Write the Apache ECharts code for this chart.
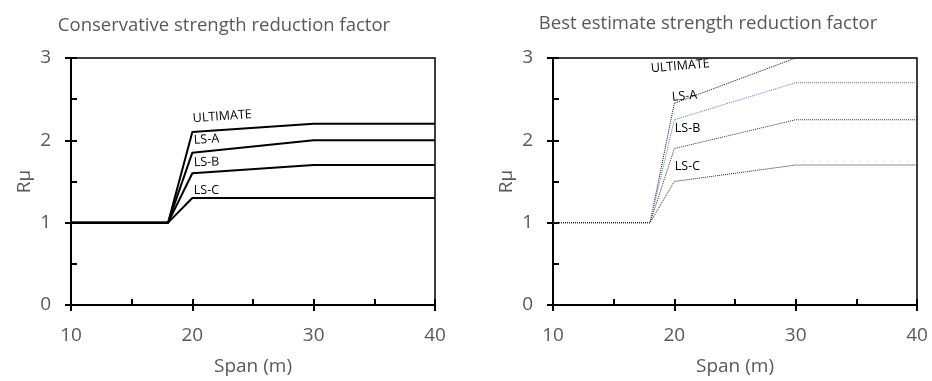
<!DOCTYPE html>
<html>
<head>
<meta charset="utf-8">
<script src="https://cdn.jsdelivr.net/npm/echarts@6/dist/echarts.min.js"></script>
<style>
  html, body { margin: 0; padding: 0; background: #fff; }
  #chart { width: 932px; height: 381px; }
</style>
</head>
<body>
<div id="chart"></div>
<script>
// span (m) where the curves break
const spanX = [10, 18, 20, 30, 40]

// conservative R mu
const consUlt = [1, 1, 2.1, 2.2, 2.2]
const consLSA = [1, 1, 1.85, 2.0, 2.0]
const consLSB = [1, 1, 1.6, 1.7, 1.7]
const consLSC = [1, 1, 1.3, 1.3, 1.3]

// best estimate R mu
const bestUlt = [1, 1, 2.45, 3.0, 3.0]
const bestLSA = [1, 1, 2.25, 2.7, 2.7]
const bestLSB = [1, 1, 1.9, 2.25, 2.25]
const bestLSC = [1, 1, 1.5, 1.7, 1.7]

const titles = ['Conservative strength reduction factor', 'Best estimate strength reduction factor']
const labelPoint = 2 // curve label sits at span 20

const gray = '#595959'
const font = 'Open Sans'

const grids = [
  {left: 71, top: 58, width: 364, height: 250},
  {left: 553, top: 58, width: 364, height: 250}
]

// labelled axis with outside ticks + an unlabelled one carrying the inner (minor) ticks
function xAxes(g) {
  return [
    {
      type: 'value', gridIndex: g, min: 10, max: 40, interval: 10,
      name: 'Span (m)', nameLocation: 'middle', nameGap: 52,
      nameTextStyle: {color: gray, fontSize: 19, fontFamily: font},
      axisLine: {show: true, lineStyle: {color: '#000', width: 2}},
      axisTick: {show: true, inside: false, length: 6, lineStyle: {color: '#000', width: 2}},
      axisLabel: {color: gray, fontSize: 19, fontFamily: font, margin: 21},
      splitLine: {show: false}
    },
    {
      type: 'value', gridIndex: g, min: 10, max: 40, interval: 5, position: 'bottom',
      axisLine: {show: false},
      axisTick: {show: true, inside: true, length: 6, lineStyle: {color: '#000', width: 2}},
      axisLabel: {show: false},
      splitLine: {show: false}
    }
  ]
}

function yAxes(g) {
  return [
    {
      type: 'value', gridIndex: g, min: 0, max: 3, interval: 1, position: 'left',
      name: 'Rμ', nameLocation: 'middle', nameGap: 37, nameRotate: 90,
      nameTextStyle: {color: gray, fontSize: 19, fontFamily: font},
      axisLine: {show: true, lineStyle: {color: '#000', width: 2}},
      axisTick: {show: true, inside: false, length: 6, lineStyle: {color: '#000', width: 2}},
      axisLabel: {color: gray, fontSize: 19, fontFamily: font, margin: 20},
      splitLine: {show: false}
    },
    {
      type: 'value', gridIndex: g, min: 0, max: 3, interval: 0.5, position: 'left',
      axisLine: {show: false},
      axisTick: {show: true, inside: true, length: 6, lineStyle: {color: '#000', width: 2}},
      axisLabel: {show: false},
      splitLine: {show: false}
    }
  ]
}

function curve(g, name, values, lineStyle, lab) {
  return {
    name: name,
    type: 'line',
    xAxisIndex: g * 2,
    yAxisIndex: g * 2,
    symbol: 'circle',
    symbolSize: 1,
    itemStyle: {color: 'rgba(0,0,0,0)'},
    lineStyle: lineStyle,
    silent: true,
    z: 3,
    data: spanX.map((x, i) => {
      if (i !== labelPoint) return [x, values[i]]
      return {
        value: [x, values[i]],
        label: {
          show: true,
          formatter: name,
          position: lab.pos,
          rotate: lab.rot,
          align: 'left',
          verticalAlign: 'middle',
          color: '#000',
          fontSize: 12.5,
          fontFamily: font
        }
      }
    })
  }
}

const solid = {color: '#000', width: 2, type: 'solid'}
const dots = c => ({color: c, width: 1, type: 'dotted'})

const option = {
  animation: false,
  backgroundColor: '#fff',
  title: [
    {text: titles[0], left: 219, top: 11, textAlign: 'center',
      textStyle: {color: gray, fontSize: 18.5, fontWeight: 'normal', fontFamily: font}},
    {text: titles[1], left: 703, top: 9, textAlign: 'center',
      textStyle: {color: gray, fontSize: 18.5, fontWeight: 'normal', fontFamily: font}}
  ],
  grid: grids.map(g => Object.assign({show: true, borderColor: '#000', borderWidth: 1.5, backgroundColor: 'transparent'}, g)),
  xAxis: xAxes(0).concat(xAxes(1)),
  yAxis: yAxes(0).concat(yAxes(1)),
  series: [
    curve(0, 'ULTIMATE', consUlt, solid, {pos: [1, -13], rot: 4}),
    curve(0, 'LS-A', consLSA, solid, {pos: [2, -12], rot: 3}),
    curve(0, 'LS-B', consLSB, solid, {pos: [2, -10], rot: 2}),
    curve(0, 'LS-C', consLSC, solid, {pos: [2, -7], rot: 0}),
    curve(1, 'ULTIMATE', bestUlt, dots('#111'), {pos: [-23, -34], rot: 5}),
    curve(1, 'LS-A', bestLSA, dots('#4f81bd'), {pos: [-2, -22], rot: 5}),
    curve(1, 'LS-B', bestLSB, dots('#333'), {pos: [1, -20], rot: 0}),
    curve(1, 'LS-C', bestLSC, dots('#222'), {pos: [1, -15], rot: 0})
  ]
}

const chart = echarts.init(document.getElementById('chart'))
chart.setOption(option)
</script>
</body>
</html>
